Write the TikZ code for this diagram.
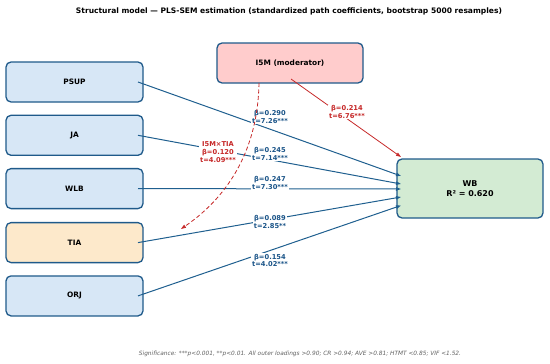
\documentclass[tikz,border=0pt]{standalone}
\usepackage{fontspec}
\setmainfont{DejaVu Sans}
\usepackage{xcolor}
\usepackage{tikz}
\usetikzlibrary{calc, positioning, arrows.meta}
\definecolor{boxedge}{HTML}{1F5A8A}
\definecolor{pathblue}{HTML}{1F5F8F}
\definecolor{labelblue}{HTML}{1A5488}
\definecolor{modred}{HTML}{C62828}
\definecolor{predfill}{HTML}{D7E7F6}
\definecolor{tiafill}{HTML}{FDE9CB}
\definecolor{modfill}{HTML}{FFCCCC}
\definecolor{wbfill}{HTML}{D3EBD3}

\tikzset{
  construct/.style={draw=boxedge, line width=1.3pt, rounded corners=5pt,
    fill=predfill, minimum width=137pt, minimum height=40pt, inner sep=0pt,
    outer sep=0pt, font=\fontsize{7.4}{9}\selectfont\bfseries},
  path line/.style={-{Triangle[length=5pt,width=3.4pt]}, pathblue, line width=1pt},
  mod line/.style={-{Triangle[length=5pt,width=3.4pt]}, modred, line width=0.8pt},
  coef/.style={fill=white, inner sep=0.8pt, align=center, text=labelblue,
    font=\fontsize{6.7}{7.7}\selectfont\bfseries},
}

\begin{document}
\begin{tikzpicture}[x=1pt, y=-1pt]
  \useasboundingbox (0,0) rectangle (550,364);

  \node[font=\fontsize{7.55}{9}\selectfont\bfseries] (title) at (289,11)
    {Structural model — PLS-SEM estimation (standardized path coefficients, bootstrap 5000 resamples)};

  % constructs
  \node[construct] (psup) at (74.5,82) {PSUP};
  \node[construct, below=13.3pt of psup] (ja) {JA};
  \node[construct, below=13.3pt of ja] (wlb) {WLB};
  \node[construct, fill=tiafill, below=14pt of wlb] (tia) {TIA};
  \node[construct, below=13.3pt of tia] (orj) {ORJ};
  \node[construct, fill=modfill, minimum width=146pt] (i5m) at (290,63)
    {I5M (moderator)};
  \node[construct, fill=wbfill, minimum width=146pt, minimum height=59pt,
    align=center, font=\fontsize{8}{10}\selectfont\bfseries] (wb) at (470,188.5)
    {WB\\R² = 0.620};

  % direct paths
  \foreach \src/\dy in {psup/12.5, ja/4.5, wlb/-0.5, tia/-8.5, orj/-17}
    \draw[path line] ([xshift=-5pt]\src.east) -- ([xshift=4pt, yshift=\dy pt]wb.west);

  \node[coef] (c-psup) at (270,117) {β=0.290\\t=7.26***};
  \node[coef] (c-ja) at (270,154) {β=0.245\\t=7.14***};
  \node[coef] (c-wlb) at (270,183) {β=0.247\\t=7.30***};
  \node[coef] (c-tia) at (270,222) {β=0.089\\t=2.85**};
  \node[coef] (c-orj) at (270,260.5) {β=0.154\\t=4.02***};

  % moderator
  \draw[mod line] ([xshift=1pt, yshift=4pt]i5m.south) -- ([xshift=4pt, yshift=31.5pt]wb.west);
  \node[coef, text=modred] (c-i5m) at (347,112) {β=0.214\\t=6.76***};

  \coordinate (modtip) at (181,229);
  \draw[mod line, dash pattern=on 4pt off 2.5pt] ([xshift=-31pt]i5m.south)
    .. controls (258,145) and (232,194) .. (modtip);
  \node[coef, text=modred] (c-int) at (218,152) {I5M×TIA\\β=0.120\\t=4.09***};

  \node[text=gray!75!black, font=\fontsize{5.85}{7}\selectfont\itshape] (note) at (300,354)
    {Significance: ***p<0.001, **p<0.01. All outer loadings >0.90; CR >0.94; AVE >0.81; HTMT <0.85; VIF <1.52.};
\end{tikzpicture}
\end{document}
